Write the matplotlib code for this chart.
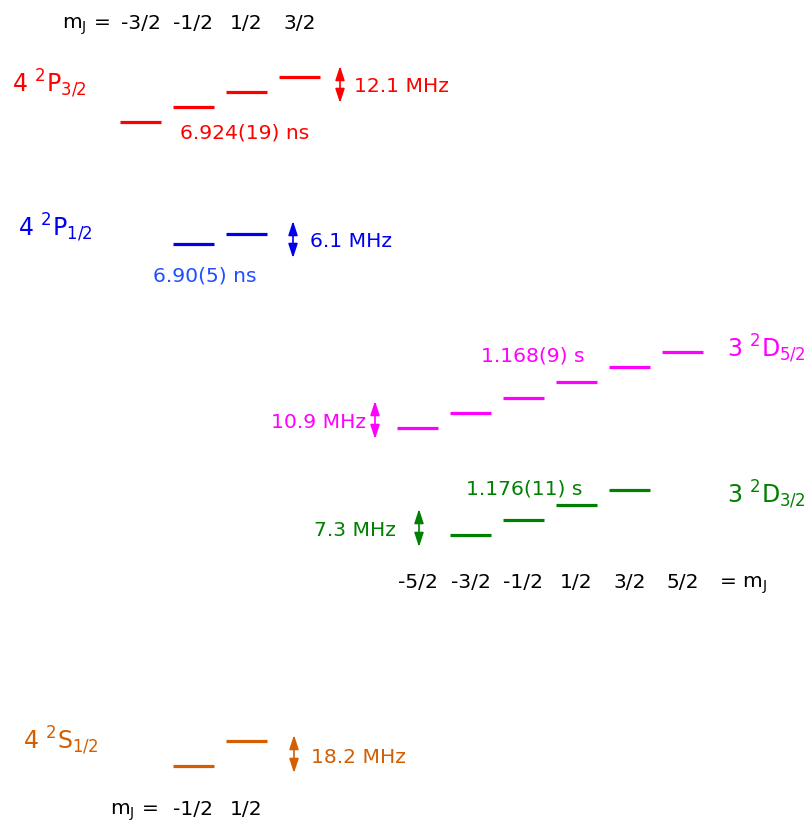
import matplotlib
matplotlib.use("Agg")
import matplotlib.pyplot as plt

plt.rcParams['font.family'] = ['DejaVu Sans']
plt.rcParams['mathtext.default'] = 'regular'

# ---- data ----
level_names = [r'4 $^2$P$_{3/2}$', r'4 $^2$P$_{1/2}$', r'3 $^2$D$_{5/2}$',
               r'3 $^2$D$_{3/2}$', r'4 $^2$S$_{1/2}$']
mj_p32 = [-1.5, -0.5, 0.5, 1.5]
mj_p12 = [-0.5, 0.5]
mj_d52 = [-2.5, -1.5, -0.5, 0.5, 1.5, 2.5]
mj_d32 = [-1.5, -0.5, 0.5, 1.5]
mj_s12 = [-0.5, 0.5]
splittings = ['12.1 MHz', '6.1 MHz', '10.9 MHz', '7.3 MHz', '18.2 MHz']
lifetimes = ['6.924(19) ns', '6.90(5) ns', '1.168(9) s', '1.176(11) s', None]
mj_top_labels = ['-3/2', '-1/2', '1/2', '3/2']
mj_mid_labels = ['-5/2', '-3/2', '-1/2', '1/2', '3/2', '5/2']
mj_bot_labels = ['-1/2', '1/2']
mj_top_vals = [-1.5, -0.5, 0.5, 1.5]
mj_mid_vals = [-2.5, -1.5, -0.5, 0.5, 1.5, 2.5]
mj_bot_vals = [-0.5, 0.5]

# ---- layout / style ----
colors = ['#ff0000', '#0000ee', '#ff00ff', '#008000', '#d55e00']
life_colors = ['#ff0000', '#1f4fff', '#ff00ff', '#008000', None]
XL, XR = 220.0, 550.0      # column origin (mJ = 0)
DX = 53                    # column spacing
HW = 20.5                  # half width of a level line
manifolds = [
    # mJ list, x0, y0, step
    (mj_p32, XL, 99.5, 15.0),
    (mj_p12, XL, 239.0, 10.0),
    (mj_d52, XR, 390.0, 15.2),
    (mj_d32, XR, 512.5, 15.0),
    (mj_s12, XL, 753.5, 25.0),
]
label_pos = [(12, 92), (18, 236), (727, 357), (727, 503), (23, 749)]
arrow_pos = [(340, 66, 103), (293, 221, 258), (375, 401, 439), (419, 509, 547), (294, 735, 773)]
split_pos = [(354, 92, 'left'), (310, 247, 'left'), (366, 428, 'right'),
             (396, 536, 'right'), (311, 763, 'left')]
life_pos = [(180, 138), (153, 282), (481, 361), (466, 494), None]

FS = 14.6
FL = 17

fig = plt.figure(figsize=(8.08, 8.23), dpi=100)
ax = fig.add_axes([0, 0, 1, 1])
ax.set_xlim(0, 808)
ax.set_ylim(823, 0)
ax.axis('off')

for i, (mjs, x0, y0, step) in enumerate(manifolds):
    c = colors[i]
    for m in mjs:
        xc = x0 + DX * m
        ax.hlines(y0 - step * m, xc - HW, xc + HW, color=c, lw=2.3)
    lx, ly = label_pos[i]
    ax.text(lx, ly, level_names[i], color=c, fontsize=FL, va='baseline', ha='left')
    axx, ay0, ay1 = arrow_pos[i]
    ax.annotate('', xy=(axx, ay0), xytext=(axx, ay1),
                arrowprops=dict(arrowstyle='<|-|>,head_width=0.28,head_length=0.85',
                                color=c, lw=1.2, shrinkA=0, shrinkB=0))
    sx, sy, ha = split_pos[i]
    ax.text(sx, sy, splittings[i], color=c, fontsize=FS, va='baseline', ha=ha)
    if lifetimes[i] is not None:
        tx, ty = life_pos[i]
        ax.text(tx, ty, lifetimes[i], color=life_colors[i], fontsize=FS,
                va='baseline', ha='left')

# mJ labels
ax.text(62, 29, r'm$_{\mathrm{J}}$ =', fontsize=FS, va='baseline', ha='left')
for lab, m in zip(mj_top_labels, mj_top_vals):
    ax.text(XL + DX * m, 29, lab, fontsize=FS, va='baseline', ha='center')
for lab, m in zip(mj_mid_labels, mj_mid_vals):
    ax.text(XR + DX * m, 588, lab, fontsize=FS, va='baseline', ha='center')
ax.text(719, 588, r'= m$_{\mathrm{J}}$', fontsize=FS, va='baseline', ha='left')
ax.text(110, 815, r'm$_{\mathrm{J}}$ =', fontsize=FS, va='baseline', ha='left')
for lab, m in zip(mj_bot_labels, mj_bot_vals):
    ax.text(XL + DX * m, 815, lab, fontsize=FS, va='baseline', ha='center')

fig.savefig('out.png', dpi=100, facecolor='white')
